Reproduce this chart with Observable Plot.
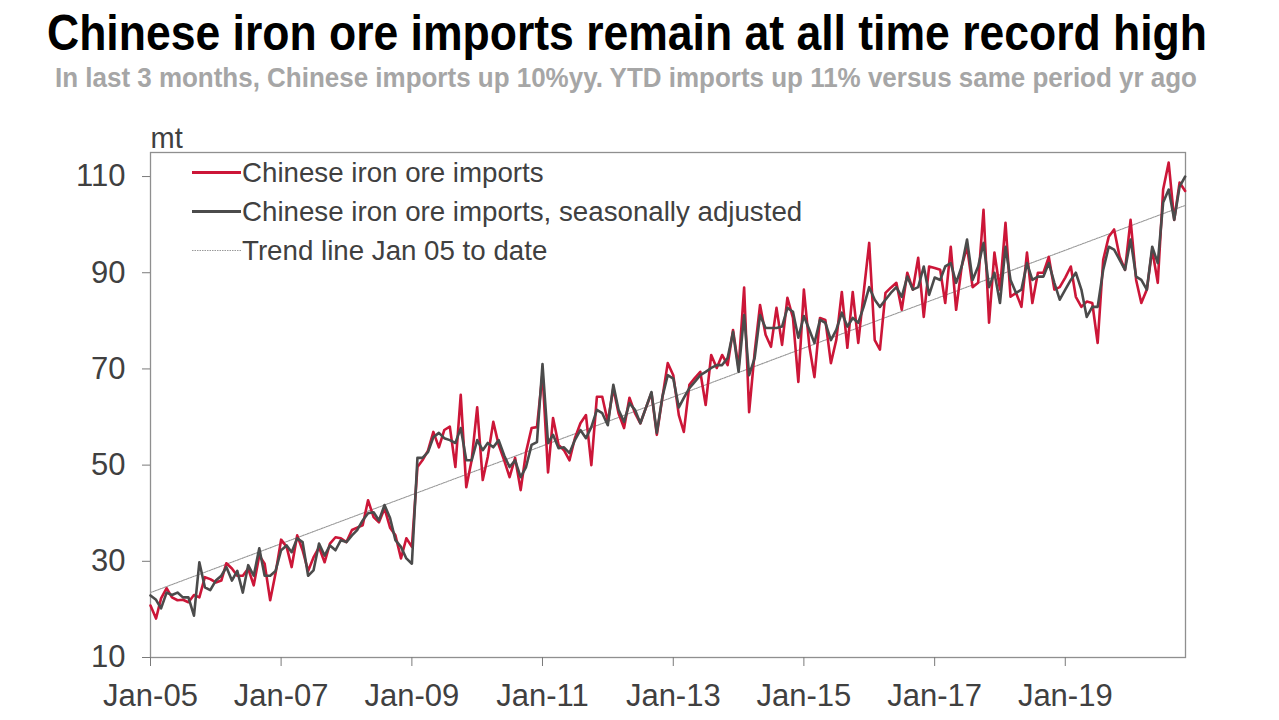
<!DOCTYPE html>
<html>
<head>
<meta charset="utf-8">
<script src="https://cdn.jsdelivr.net/npm/d3@7"></script>
<script src="https://cdn.jsdelivr.net/npm/@observablehq/plot@0.6"></script>
<style>
  html, body { margin: 0; padding: 0; background: #fff; }
  #wrap { position: relative; width: 1279px; height: 720px; overflow: hidden; font-family: "Liberation Sans", Arial, sans-serif; }
  .hdr { position: absolute; white-space: nowrap; }
  .hdr span { display: inline-block; transform-origin: 0 0; }
  #title { left: 47px; top: 8px; font-size: 50px; line-height: 50px; font-weight: bold; color: #000; }
  #subtitle { left: 55px; top: 64px; font-size: 28px; line-height: 28px; font-weight: bold; color: #a6a6a6; }
  #chart { position: absolute; left: 0; top: 100px; }
  #legend { position: absolute; left: 190px; top: 153px; font-size: 27.7px; color: #404040; }
  #legend .row { height: 39px; line-height: 39px; white-space: nowrap; }
  #legend svg { vertical-align: top; }
</style>
</head>
<body>
<div id="wrap">
  <div id="title" class="hdr"><span>Chinese iron ore imports remain at all time record high</span></div>
  <div id="subtitle" class="hdr"><span>In last 3 months, Chinese imports up 10%yy. YTD imports up 11% versus same period yr ago</span></div>
  <div id="chart"></div>
  <div id="legend"></div>
</div>
<script>
// Monthly values, Jan 2005 onwards (mt)
const imports = [
  20.8, 18.1, 22.3, 24.4, 22.5, 21.9, 22, 21.5, 23, 22.5, 26.7, 26.3,      // 2005
  25.6, 26, 29.6, 28.5, 27, 27, 28.5, 25, 31.2, 29.5, 21.9, 27.5,          // 2006
  34.5, 33, 28.8, 35.4, 32.3, 28, 30.8, 32.9, 29.8, 33.7, 35, 34.8,        // 2007
  34, 36.5, 37, 37.5, 42.7, 39.2, 38.1, 41, 37, 35.4, 30.6, 34.8,          // 2008
  33, 49.6, 51, 53, 56.9, 53.7, 57.3, 58, 49.6, 64.6, 45.4, 51,            // 2009
  62, 46.9, 51.7, 59, 54.2, 51, 47.5, 51.5, 44.8, 52.7, 57.7, 57.9,        // 2010
  69, 48.5, 59.8, 54.2, 53.1, 51, 55.6, 58.7, 60.4, 50, 64.2, 64.2,        // 2011
  59, 66, 60.8, 57.7, 64, 60.8, 58.7, 61.9, 65, 56.3, 64, 71.2,            // 2012
  68.7, 60.4, 56.9, 66.7, 68.1, 69.4, 62.5, 72.9, 70.2, 72.9, 70.8, 78.1,  // 2013
  70.2, 86.9, 61, 73.5, 83.3, 77.1, 74.6, 82.7, 75, 84.8, 80.6, 67.3,      // 2014
  86.5, 74.6, 68.3, 80.6, 80.2, 71.2, 76, 86, 74.4, 86, 75.4, 85.8,        // 2015
  96.2, 76, 74, 85.8, 86.9, 87.9, 82.3, 90, 86.5, 93.1, 80.8, 91.3,        // 2016
  91, 90.6, 83.7, 95.4, 82.3, 91.3, 95.4, 87, 87.9, 103.1, 79.6, 94.2,     // 2017
  86.5, 100.4, 85, 85.8, 82.9, 94.2, 83.7, 90, 90, 93.3, 86.5, 87,         // 2018
  89, 91.3, 85, 82.9, 84, 83.7, 75.4, 92.7, 97.5, 99, 93.3, 90.6,          // 2019
  101, 88.5, 83.7, 86.5, 94.8, 87.9, 107.3, 112.9, 101, 108.75, 107        // 2020
];
const importsSA = [
  22.9, 22, 20.2, 23.5, 23, 23.5, 22.5, 22.5, 18.7, 29.8, 24.6, 24,        // 2005
  26, 27, 28.8, 26, 28, 23.5, 29.2, 27, 32.7, 27, 27, 28,                  // 2006
  32.3, 33.3, 31.9, 34.8, 34, 27, 28.1, 33.7, 31.2, 33.3, 32.3, 34.4,      // 2007
  34, 35.4, 36.5, 38.5, 40, 40.2, 38.5, 41.7, 39, 34.4, 33, 30.6,          // 2008
  29.5, 51.5, 51.5, 52.7, 55.8, 56.7, 55.6, 55.2, 54.6, 57.7, 51, 51,      // 2009
  55.2, 53.1, 54.6, 53.7, 55.2, 52, 49.6, 51, 47.5, 49.6, 54.2, 54.8,      // 2010
  71, 54.6, 56.3, 53.5, 53.7, 52.5, 55.2, 57.3, 55.6, 57.9, 61.5, 60.8,    // 2011
  58.3, 66.7, 61.5, 59, 62.9, 61.5, 58.7, 61.9, 65.2, 56.7, 64.2, 68.7,    // 2012
  68, 62, 64, 66, 67.3, 68.7, 69.4, 70.2, 70.8, 70.8, 72.3, 77.7,          // 2013
  69.4, 81.2, 68.7, 72.3, 81.2, 78.5, 78.5, 78.5, 78.8, 82.7, 81.9, 76.5,  // 2014
  81, 78.1, 75.4, 80.2, 79.6, 76, 78.1, 81.7, 78.8, 80.6, 79.6, 82.9,      // 2015
  87, 84.4, 82.9, 84.4, 85.8, 87, 85, 89.2, 86.5, 87, 91.3, 85.4,          // 2016
  89, 88.5, 91.3, 92, 87.9, 91.3, 96.9, 88.5, 91.3, 96.2, 87, 90,          // 2017
  83.7, 95.4, 88.5, 85.8, 86.5, 92, 88.5, 89.2, 89.2, 92, 87.9, 84.4,      // 2018
  86.5, 88.5, 90, 86.5, 80.8, 82.9, 82.9, 90.6, 95.4, 94.8, 92.7, 90.6,    // 2019
  96.9, 89.2, 88.5, 86.5, 95.4, 92, 104.6, 107.3, 101, 107.9, 110          // 2020
];
// Trend line Jan 05 to date: start and end values
const trendValues = [23.5, 104];
const yTicks = [10, 30, 50, 70, 90, 110];
const xTickYears = [2005, 2007, 2009, 2011, 2013, 2015, 2017, 2019];
const seriesNames = ["Chinese iron ore imports", "Chinese iron ore imports, seasonally adjusted", "Trend line Jan 05 to date"];

const RED = "#cc1638", DARK = "#4b4b4b", TREND = "#999999";

const start = new Date(Date.UTC(2005, 0, 1));
const monthDate = i => new Date(Date.UTC(2005, i, 1));
const redData = imports.map((v, i) => ({date: monthDate(i), value: v}));
const darkData = importsSA.map((v, i) => ({date: monthDate(i), value: v}));
const lastDate = monthDate(imports.length - 1);
const trendData = [{date: start, value: trendValues[0]}, {date: lastDate, value: trendValues[1]}];
const domainEnd = new Date(lastDate.getTime() + 2 * 86400000);

const chart = Plot.plot({
  width: 1279,
  height: 620,
  marginTop: 52,
  marginBottom: 63,
  marginLeft: 150,
  marginRight: 94,
  style: {fontFamily: "'Liberation Sans', Arial, sans-serif", color: "#404040", background: "transparent", overflow: "visible"},
  x: {type: "utc", domain: [start, domainEnd]},
  y: {domain: [10, 115]},
  marks: [
    Plot.frame({stroke: "#8f8f8f", strokeWidth: 1.3}),
    Plot.axisY({ticks: yTicks, tickSize: 8, tickPadding: 17, fontSize: 31, stroke: "#7a7a7a", fill: "#404040", label: null}),
    Plot.axisX({ticks: xTickYears.map(y => new Date(Date.UTC(y, 0, 1))), tickSize: 9, tickPadding: 17, fontSize: 31,
      stroke: "#7a7a7a", fill: "#404040", label: null,
      tickFormat: d => "Jan-" + String(d.getUTCFullYear()).slice(2)}),
    Plot.line(trendData, {x: "date", y: "value", stroke: TREND, strokeWidth: 1.1, strokeDasharray: "1.5,1"}),
    Plot.line(redData, {x: "date", y: "value", stroke: RED, strokeWidth: 2.6}),
    Plot.line(darkData, {x: "date", y: "value", stroke: DARK, strokeWidth: 2.6}),
    Plot.text(["mt"], {text: d => d, frameAnchor: "top-left", dy: -5, textAnchor: "start", lineAnchor: "bottom", fontSize: 29, fill: "#404040"})
  ]
});
document.getElementById("chart").appendChild(chart);

// Legend
const legendStyles = [
  {stroke: RED, width: 3, dash: null},
  {stroke: DARK, width: 3.2, dash: null},
  {stroke: TREND, width: 1, dash: "1.5,1"}
];
const legend = document.getElementById("legend");
seriesNames.forEach((name, i) => {
  const s = legendStyles[i];
  const row = document.createElement("div");
  row.className = "row";
  row.innerHTML = `<svg width="52" height="39"><line x1="2" x2="51" y1="19.5" y2="19.5" stroke="${s.stroke}" stroke-width="${s.width}" ${s.dash ? `stroke-dasharray="${s.dash}"` : ""}/></svg><span>${name}</span>`;
  legend.appendChild(row);
});

// Condense headers to the reference widths
function fit(id, target) {
  const span = document.querySelector("#" + id + " span");
  const w = span.getBoundingClientRect().width;
  span.style.transform = `scaleX(${target / w})`;
}
fit("title", 1160);
fit("subtitle", 1142);
</script>
</body>
</html>
